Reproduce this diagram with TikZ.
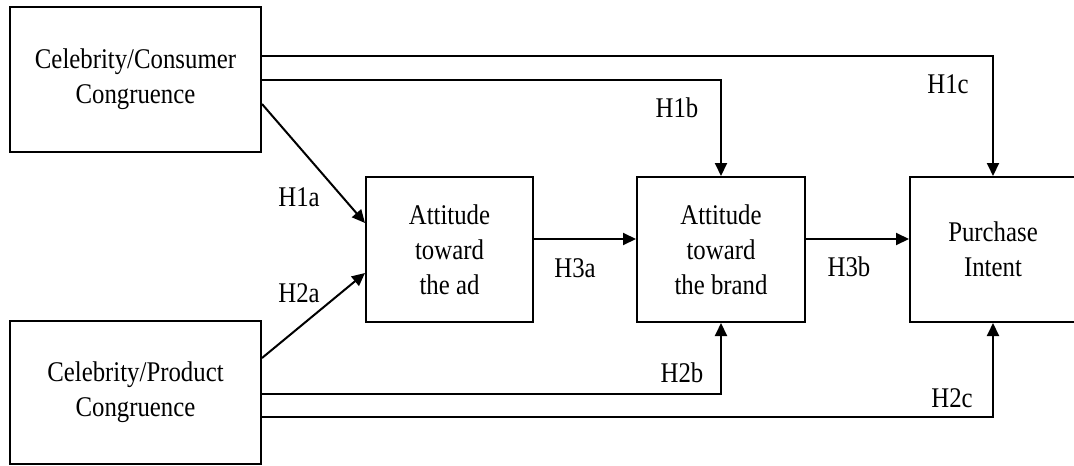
\documentclass[tikz,border=0pt]{standalone}
\usepackage{fontspec}
\setmainfont{Liberation Serif}[FakeStretch = 0.87]
\usetikzlibrary{arrows.meta}

\begin{document}
\begin{tikzpicture}[
  x = 1pt, y = -1pt,
  every node/.style = {font = \fontsize{28.5}{35}\selectfont, inner sep = 0pt},
  box/.style = {draw, line width = 2pt, align = center, minimum height = 145pt},
  hyp/.style = {draw = none},
  arr/.style = {line width = 2pt, -{Triangle[length = 13pt, width = 12pt]}}
  ]
  \useasboundingbox (0,0) rectangle (1074,466);

  \node[box, minimum width = 251pt] (cc) at (135.5,79.5) {Celebrity/Consumer\\Congruence};
  \node[box, minimum width = 251pt, minimum height = 143pt] (cp) at (135.5,392.5) {Celebrity/Product\\Congruence};
  \node[box, minimum width = 167pt] (ad) at (449.5,249.5) {Attitude\\toward\\the ad};
  \node[box, minimum width = 168pt] (brand) at (721,249.5) {Attitude\\toward\\the brand};
  \node[box, minimum width = 166pt] (pi) at (993,249.5) {Purchase\\Intent};

  \draw[arr] ([yshift = 23.5pt]cc.east) -| (pi.north);
  \draw[arr] (cc.east) -| (brand.north);
  \draw[arr] ([yshift = -24.5pt]cc.east) -- ([yshift = 26.5pt]ad.west);
  \draw[arr] ([yshift = 34.5pt]cp.east) -- ([yshift = -23.5pt]ad.west);
  \draw[arr] ([yshift = -1.5pt]cp.east) -| (brand.south);
  \draw[arr] ([yshift = -24.5pt]cp.east) -| (pi.south);
  \draw[arr] ([yshift = 10.5pt]ad.east) -- ([yshift = 10.5pt]brand.west);
  \draw[arr] ([yshift = 10.5pt]brand.east) -- ([yshift = 10.5pt]pi.west);

  \node[hyp] (h1a) at (299,197) {H1a};
  \node[hyp] (h2a) at (299,293) {H2a};
  \node[hyp] (h1b) at (677,108) {H1b};
  \node[hyp] (h1c) at (948,84) {H1c};
  \node[hyp] (h2b) at (682,373) {H2b};
  \node[hyp] (h2c) at (952,398) {H2c};
  \node[hyp] (h3a) at (575,268) {H3a};
  \node[hyp] (h3b) at (849,267) {H3b};
\end{tikzpicture}
\end{document}
